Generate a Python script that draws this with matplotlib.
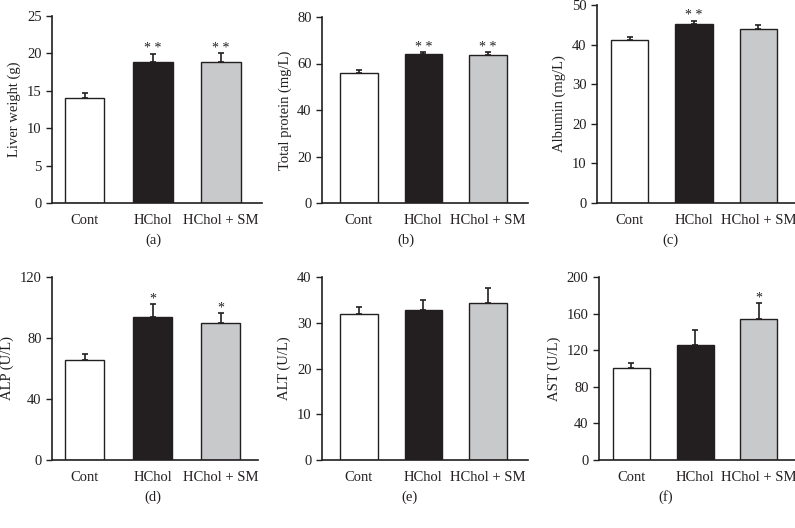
import matplotlib
matplotlib.use('Agg')
import matplotlib.pyplot as plt
import numpy as np

plt.rcParams['font.family'] = ['Liberation Serif', 'DejaVu Serif']

# Data
groups = ['Cont', 'HChol', 'HChol + SM']
bar_colors = ['#ffffff', '#231f20', '#c8c9cb']

liver_mean = [14.05, 18.9, 18.85]
liver_err = [0.7, 1.05, 1.15]
protein_mean = [56.1, 63.9, 63.65]
protein_err = [1.0, 0.9, 1.25]
albumin_mean = [41.2, 45.2, 43.9]
albumin_err = [0.6, 0.85, 1.1]
alp_mean = [65.8, 93.5, 90.0]
alp_err = [3.5, 8.6, 6.4]
alt_mean = [32.0, 32.7, 34.4]
alt_err = [1.4, 2.2, 3.2]
ast_mean = [100.9, 125.3, 153.7]
ast_err = [5.1, 17.1, 17.9]

liver_sig = ['', '**', '**']
protein_sig = ['', '**', '**']
albumin_sig = ['', '**', '']
alp_sig = ['', '*', '*']
alt_sig = ['', '', '']
ast_sig = ['', '', '*']

panels = [
    ('Liver weight (g)', liver_mean, liver_err, liver_sig, np.arange(0, 26, 5), '(a)'),
    ('Total protein (mg/L)', protein_mean, protein_err, protein_sig, np.arange(0, 81, 20), '(b)'),
    ('Albumin (mg/L)', albumin_mean, albumin_err, albumin_sig, np.arange(0, 51, 10), '(c)'),
    ('ALP (U/L)', alp_mean, alp_err, alp_sig, np.arange(0, 121, 40), '(d)'),
    ('ALT (U/L)', alt_mean, alt_err, alt_sig, np.arange(0, 41, 10), '(e)'),
    ('AST (U/L)', ast_mean, ast_err, ast_sig, np.arange(0, 201, 40), '(f)'),
]

W, H = 795, 528
# axes boxes in pixels: left, right, top, bottom ; xlim ; panel letter x
boxes = [
    (52, 262, 16, 203, (-0.48, 2.6), 153),
    (322, 528, 17, 203, (-0.57, 2.62), 406),
    (597, 795, 5, 203, (-0.51, 2.57), 670),
    (52, 258, 277, 460, (-0.48, 2.55), 153),
    (322, 528, 277, 460, (-0.57, 2.62), 410),
    (599, 795, 277, 460, (-0.51, 2.57), 666),
]

fig = plt.figure(figsize=(W / 100, H / 100), dpi=100)
ink = '#231f20'

for (ylabel, mean, err, sig, yt, letter), (l, r, t, b, xl, lx) in zip(panels, boxes):
    ax = fig.add_axes([l / W, 1 - b / H, (r - l) / W, (b - t) / H])
    x = np.arange(len(groups))
    ax.bar(x, mean, width=0.58, color=bar_colors, edgecolor=ink, linewidth=1.0, zorder=2)
    ax.errorbar(x, mean, yerr=[np.zeros(len(x)), err], fmt='none', ecolor=ink,
                elinewidth=1.2, capsize=2.5, capthick=1.2, zorder=1)
    ymax = yt[-1]
    for xi, m, e, s in zip(x, mean, err, sig):
        if s:
            ax.annotate(' '.join(s), (xi, m + e), xytext=(0, 1), textcoords='offset points',
                        ha='center', va='baseline', fontsize=10, color=ink)
    ax.set_ylim(0, ymax)
    ax.set_xlim(*xl)
    ax.set_yticks(yt)
    ax.set_xticks(x)
    ax.set_xticklabels(groups)
    ax.set_ylabel(ylabel, fontsize=10.5, color=ink)
    ax.tick_params(axis='y', direction='out', length=4, width=1, labelsize=10.5, colors=ink)
    ax.tick_params(axis='x', length=0, labelsize=10.5, colors=ink, pad=8)
    for side in ['top', 'right']:
        ax.spines[side].set_visible(False)
    for side in ['left', 'bottom']:
        ax.spines[side].set_linewidth(1.2)
        ax.spines[side].set_color(ink)
    fig.text(lx / W, 1 - (b + 37) / H, letter, ha='center', va='center', fontsize=10.5, color=ink)

fig.savefig('out.png', dpi=100)
